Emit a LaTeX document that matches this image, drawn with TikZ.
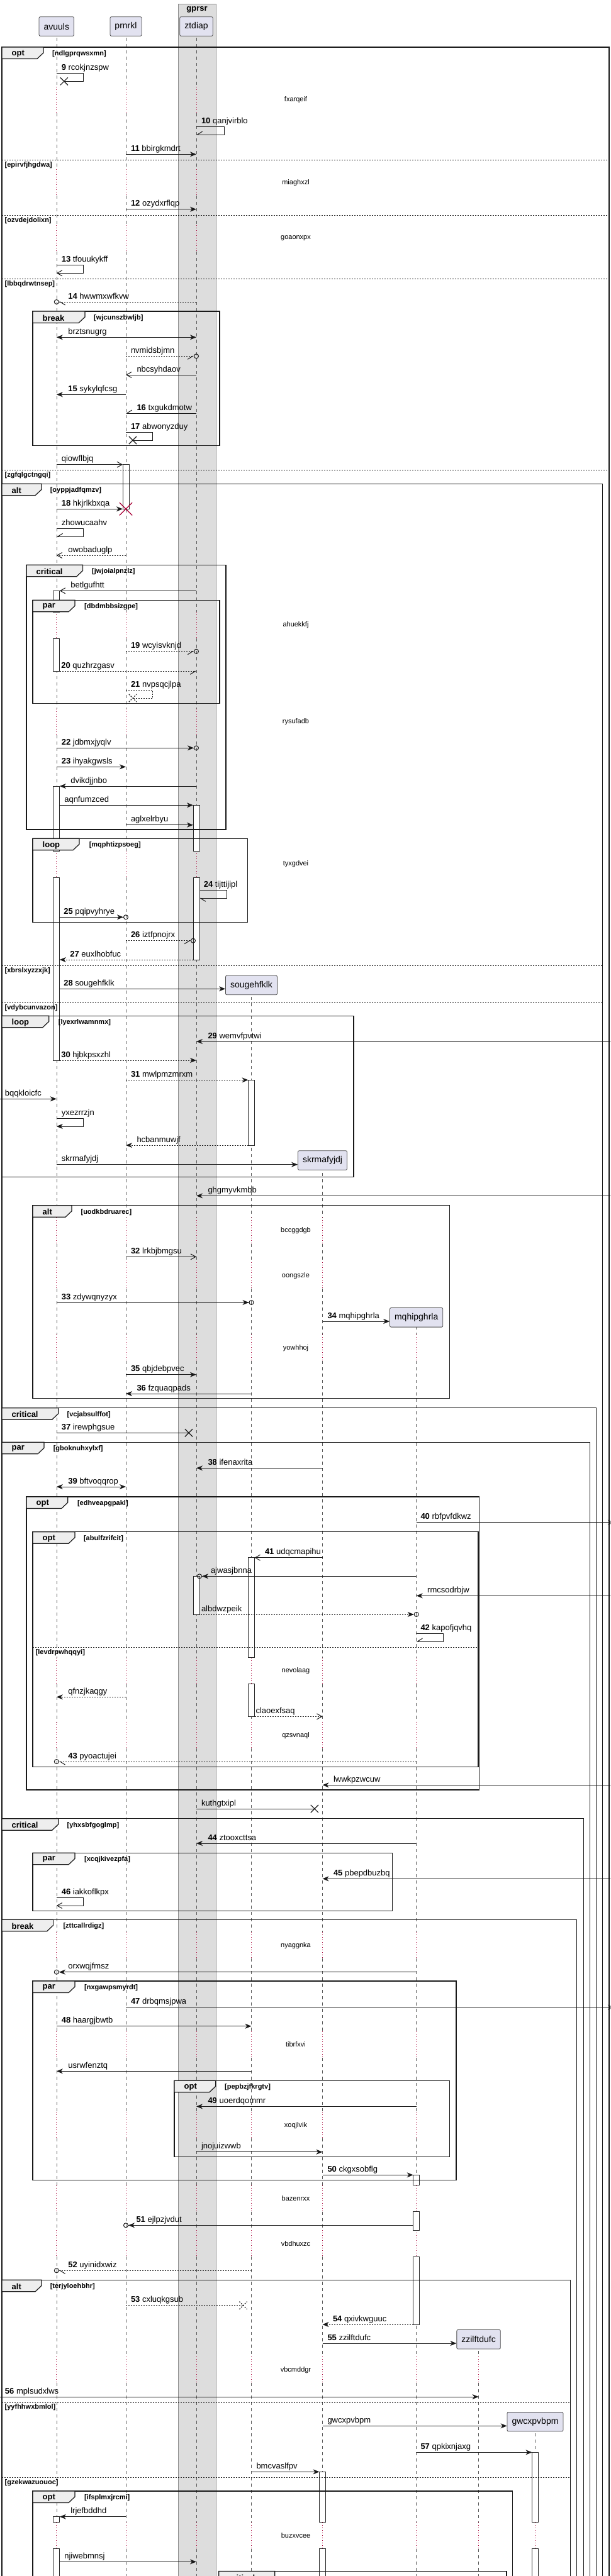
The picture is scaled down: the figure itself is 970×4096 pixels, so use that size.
\documentclass[tikz,border=0pt]{standalone}
\usepackage{fontspec}
\setmainfont{Liberation Sans}
\usetikzlibrary{arrows.meta,shapes.misc,calc}
\definecolor{lanebg}{HTML}{DDDDDD}
\definecolor{partbg}{HTML}{E2E2F0}
\definecolor{tabbg}{HTML}{EEEEEE}
\definecolor{crim}{HTML}{A80036}

\begin{document}
\begin{tikzpicture}[x=1pt,y=-1pt,
  part/.style={draw=black!70, fill=partbg, rounded corners=2pt, line width=0.8pt, minimum height=30.6pt, inner xsep=7.5pt, inner ysep=0pt, font=\fontsize{14}{16}\selectfont},
  life/.style={draw=black!65, line width=0.6pt, dash pattern=on 5pt off 5pt},
  dly/.style={draw=crim, line width=0.9pt, dash pattern=on 1pt off 3pt},
  dlytxt/.style={font=\fontsize{11}{13}\selectfont, inner sep=0pt},
  act/.style={draw=black!85, fill=white, line width=0.8pt},
  frm/.style={draw=black!90, line width=1.5pt},
  tab/.style={draw=black!90, fill=tabbg, line width=1.2pt},
  tabtxt/.style={anchor=west, inner sep=0pt, font=\bfseries\fontsize{13}{15}\selectfont},
  grd/.style={anchor=west, inner sep=0pt, font=\bfseries\fontsize{11}{13}\selectfont},
  sep/.style={draw=black!90, line width=1pt, dash pattern=on 2pt off 2pt},
  msg/.style={draw=black!90, line width=1pt},
  ret/.style={msg, dash pattern=on 2pt off 2pt},
  fil/.style={-{Stealth[length=10pt,width=8pt,inset=3pt]}},
  both/.style={{Stealth[length=10pt,width=8pt,inset=3pt]}-{Stealth[length=10pt,width=8pt,inset=3pt]}},
  opn/.style={-{Straight Barb[length=8pt,width=9pt]}},
  hl/.style={-{Straight Barb[harpoon,length=8pt,width=10pt]}},
  hr/.style={-{Straight Barb[harpoon,swap,length=8pt,width=10pt]}},
  filc/.style={-{Stealth[length=10pt,width=8pt,inset=3pt]Circle[open,length=8pt,width=8pt]}, shorten >=-4pt},
  hlc/.style={-{Straight Barb[harpoon,length=8pt,width=10pt]Circle[open,length=8pt,width=8pt]}, shorten >=-4pt},
  hrc/.style={-{Straight Barb[harpoon,swap,length=8pt,width=10pt]Circle[open,length=8pt,width=8pt]}, shorten >=-4pt},
  lr/.style={pos=0, anchor=base west, inner sep=0pt, xshift=#1, yshift=5pt, font=\fontsize{13}{15}\selectfont}, lr/.default=7.5pt,
  rl/.style={pos=1, anchor=base west, inner sep=0pt, xshift=#1, yshift=5pt, font=\fontsize{13}{15}\selectfont}, rl/.default=17pt,
  gone/.style={cross out, draw=black!90, line width=1.2pt, minimum size=11pt, inner sep=0pt},
  kill/.style={cross out, draw=crim, line width=1.3pt, minimum size=19pt, inner sep=0pt}]
\useasboundingbox (0,0) rectangle (970,4096);
\clip (0,0) rectangle (970,4096);

\fill[lanebg] (283,6) rectangle (343,4120);
\draw[black!45, line width=0.8pt] (283,4120) -- (283,6) -- (343,6) -- (343,4120);
\node[font=\bfseries\fontsize{13}{15}\selectfont] (gprsr) at (313,15) {gprsr};

\coordinate (ledge) at (0,0);
\coordinate (redge) at (976,0);
\node[part] (av) at (89.8,42) {avuuls};
\node[part] (pr) at (200,42) {prnrkl};
\node[part] (zt) at (312,42) {ztdiap};
\node[part] (so) at (399.5,1566.5) {sougehfklk};
\node[part] (sk) at (512.5,1845) {skrmafyjdj};
\node[part] (mq) at (661.7,2094.8) {mqhipghrla};
\node[part] (zz) at (760.6,3719.7) {zzilftdufc};
\node[part] (gw) at (850.5,3850.7) {gwcxpvbpm};

\foreach \p/\s in {av/57.3,pr/57.3,zt/57.3,so/1582.3,sk/1860.3,mq/2110.3,zz/3735,gw/3866.7}{
  \begin{scope}
    \clip (0,\s) rectangle (970,4120);
    \foreach \a/\b in {0/138,180/269.3,311.3/358,400/973,1015/1126.7,1168.7/1353,1395/1935.7,1977.7/2007.3,2049.3/2122.3,2164.3/2635.7,2677.7/2738.3,2780.3/3072.3,3114.3/3230,3272/3358.3,3400.3/3474.7,3516.7/3546.3,3588.3/3747.3,3789.3/4010.7,4052.7/4120}
      \draw[life] (\p|-0,\a) -- (\p|-0,\b);
    \foreach \c in {159,290.3,379,994,1147.7,1374,1956.7,2028.3,2143.3,2656.7,2759.3,3093.3,3251,3379.3,3495.7,3567.3,3768.3,4031.7}
      \draw[dly] (\p|-0,\c-21) -- (\p|-0,\c+21);
  \end{scope}
}

\filldraw[act] (195,738.7) rectangle (205,809.3);
\filldraw[act] (84.8,939.3) rectangle (94.8,973);
\filldraw[act] (84.8,1015) rectangle (94.8,1067.3);
\filldraw[act] (84.8,1250) rectangle (94.8,1353);
\filldraw[act] (84.8,1395) rectangle (94.8,1686);
\filldraw[act] (307,1280.3) rectangle (317,1353);
\filldraw[act] (307,1395) rectangle (317,1526);
\filldraw[act] (394.5,1717.3) rectangle (404.5,1821);
\filldraw[act] (394.5,2476.7) rectangle (404.5,2635.7);
\filldraw[act] (394.5,2677.7) rectangle (404.5,2729.3);
\filldraw[act] (307,2506.3) rectangle (317,2567);
\filldraw[act] (656.7,3458.3) rectangle (666.7,3474.7);
\filldraw[act] (656.7,3516.7) rectangle (666.7,3546.3);
\filldraw[act] (656.7,3588.3) rectangle (666.7,3696);
\filldraw[act] (845.5,3899.3) rectangle (855.5,4010.7);
\filldraw[act] (845.5,4052.7) rectangle (855.5,4120);
\filldraw[act] (507.5,3930.3) rectangle (517.5,4010.7);
\filldraw[act] (507.5,4052.7) rectangle (517.5,4120);
\filldraw[act] (84.8,4001.7) rectangle (94.8,4010.7);
\filldraw[act] (84.8,4052.7) rectangle (94.8,4120);

\draw[frm] (3,75) rectangle (968,4120);
\filldraw[tab] (3,75) -- (69,75) -- (69,84) -- (59,93.5) -- (3,93.5) -- cycle;
\node[tabtxt] (t1) at (18.5,85.5) {opt};
\node[grd] (g1) at (83,85.5) {[ndlgprqwsxmn]};
\draw[sep] (3,254.3) -- (968,254.3);
\node[grd] (g1b) at (7.5,262.3) {[epirvfjhgdwa]};
\draw[sep] (3,342.3) -- (968,342.3);
\node[grd] (g1c) at (7.5,350.5) {[ozvdejdolixn]};
\draw[sep] (3,443) -- (968,443);
\node[grd] (g1d) at (7.5,451.5) {[lbbqdrwtnsep]};
\draw[sep] (3,747.3) -- (968,747.3);
\node[grd] (g1e) at (7.5,756) {[zgfqlgctngqi]};

\draw[frm] (52,495) rectangle (349,708.3);
\filldraw[tab] (52,495) -- (135,495) -- (135,504) -- (125,513.5) -- (52,513.5) -- cycle;
\node[tabtxt] (t2) at (67.5,505.5) {break};
\node[grd] (g2) at (149,505.5) {[wjcunszbwljb]};

\draw[frm] (3,769.3) rectangle (957.4,4120);
\filldraw[tab] (3,769.3) -- (66,769.3) -- (66,778.3) -- (56,787.8) -- (3,787.8) -- cycle;
\node[tabtxt] (t3) at (18.5,779.8) {alt};
\node[grd] (g3) at (79.6,779.8) {[oyppjadfqmzv]};
\draw[sep] (3,1535.3) -- (957.4,1535.3);
\node[grd] (g3b) at (7.5,1543.5) {[xbrslxyzzxjk]};
\draw[sep] (3,1594.3) -- (957.4,1594.3);
\node[grd] (g3c) at (7.5,1602.5) {[vdybcunvazon]};

\draw[frm] (42,898.3) rectangle (359,1319);
\filldraw[tab] (42,898.3) -- (131.6,898.3) -- (131.6,907.3) -- (121.6,916.8) -- (42,916.8) -- cycle;
\node[tabtxt] (t4) at (57.5,908.8) {critical};
\node[grd] (g4) at (146,908.8) {[jwjoialpnzlz]};

\draw[frm] (52,954.3) rectangle (349,1118.3);
\filldraw[tab] (52,954.3) -- (119,954.3) -- (119,963.3) -- (109,972.8) -- (52,972.8) -- cycle;
\node[tabtxt] (t5) at (67.5,964.8) {par};
\node[grd] (g5) at (134,964.8) {[dbdmbbsizgpe]};

\draw[frm] (52,1333.3) rectangle (393.5,1466.3);
\filldraw[tab] (52,1333.3) -- (126,1333.3) -- (126,1342.3) -- (116,1351.8) -- (52,1351.8) -- cycle;
\node[tabtxt] (t6) at (67.5,1343.8) {loop};
\node[grd] (g6) at (141.6,1343.8) {[mqphtizpsoeg]};

\draw[frm] (3,1615.3) rectangle (562,1871.3);
\filldraw[tab] (3,1615.3) -- (77.7,1615.3) -- (77.7,1624.3) -- (67.7,1633.8) -- (3,1633.8) -- cycle;
\node[tabtxt] (t7) at (18.5,1625.8) {loop};
\node[grd] (g7) at (92.7,1625.8) {[lyexrlwamnmx]};

\draw[frm] (52,1916.7) rectangle (714.3,2223.7);
\filldraw[tab] (52,1916.7) -- (114,1916.7) -- (114,1925.7) -- (104,1935.2) -- (52,1935.2) -- cycle;
\node[tabtxt] (t8) at (67.5,1927.2) {alt};
\node[grd] (g8) at (128.4,1927.2) {[uodkbdruarec]};

\draw[frm] (3,2238.7) rectangle (947.4,4120);
\filldraw[tab] (3,2238.7) -- (92.7,2238.7) -- (92.7,2247.7) -- (82.7,2257.2) -- (3,2257.2) -- cycle;
\node[tabtxt] (t9) at (18.5,2249.2) {critical};
\node[grd] (g9) at (106.5,2249.2) {[vcjabsulffot]};

\draw[frm] (3,2293.3) rectangle (937.3,4120);
\filldraw[tab] (3,2293.3) -- (70,2293.3) -- (70,2302.3) -- (60,2311.8) -- (3,2311.8) -- cycle;
\node[tabtxt] (t10) at (18.5,2303.8) {par};
\node[grd] (g10) at (84.6,2303.8) {[gboknuhxylxf]};

\draw[frm] (42,2380) rectangle (761.3,2846);
\filldraw[tab] (42,2380) -- (107.8,2380) -- (107.8,2389) -- (97.8,2398.5) -- (42,2398.5) -- cycle;
\node[tabtxt] (t11) at (57.5,2390.5) {opt};
\node[grd] (g11) at (122.8,2390.5) {[edhveapgpakl]};

\draw[frm] (52,2435.7) rectangle (760,2809.3);
\filldraw[tab] (52,2435.7) -- (119,2435.7) -- (119,2444.7) -- (109,2454.2) -- (52,2454.2) -- cycle;
\node[tabtxt] (t12) at (67.5,2446.2) {opt};
\node[grd] (g12) at (132.8,2446.2) {[abulfzrifcit]};
\draw[sep] (52,2619.3) -- (760,2619.3);
\node[grd] (g12b) at (56.5,2627.5) {[levdrpwhqqyi]};

\draw[frm] (3,2891.7) rectangle (927.3,4120);
\filldraw[tab] (3,2891.7) -- (92.7,2891.7) -- (92.7,2900.7) -- (82.7,2910.2) -- (3,2910.2) -- cycle;
\node[tabtxt] (t13) at (18.5,2902.2) {critical};
\node[grd] (g13) at (106.5,2902.2) {[yhxsbfgoglmp]};

\draw[frm] (52,2946.3) rectangle (623.4,3038.3);
\filldraw[tab] (52,2946.3) -- (119,2946.3) -- (119,2955.3) -- (109,2964.8) -- (52,2964.8) -- cycle;
\node[tabtxt] (t14) at (67.5,2956.8) {par};
\node[grd] (g14) at (134,2956.8) {[xcqjkivezpfa]};

\draw[frm] (3,3052.3) rectangle (916.6,4120);
\filldraw[tab] (3,3052.3) -- (84.6,3052.3) -- (84.6,3061.3) -- (74.6,3070.8) -- (3,3070.8) -- cycle;
\node[tabtxt] (t15) at (18.5,3062.8) {break};
\node[grd] (g15) at (100.3,3062.8) {[zttcallrdigz]};

\draw[frm] (52,3150) rectangle (725,3466.7);
\filldraw[tab] (52,3150) -- (119,3150) -- (119,3159) -- (109,3168.5) -- (52,3168.5) -- cycle;
\node[tabtxt] (t16) at (67.5,3160.5) {par};
\node[grd] (g16) at (134,3160.5) {[nxgawpsmyrdt]};

\draw[frm] (277,3308.3) rectangle (714.3,3429.3);
\filldraw[tab] (277,3308.3) -- (342.7,3308.3) -- (342.7,3317.3) -- (332.7,3326.8) -- (277,3326.8) -- cycle;
\node[tabtxt] (t17) at (292.5,3318.8) {opt};
\node[grd] (g17) at (357,3318.8) {[pepbzjfkrgtv]};

\draw[frm] (3,3625.3) rectangle (906.6,4120);
\filldraw[tab] (3,3625.3) -- (66,3625.3) -- (66,3634.3) -- (56,3643.8) -- (3,3643.8) -- cycle;
\node[tabtxt] (t18) at (18.5,3635.8) {alt};
\node[grd] (g18) at (79.6,3635.8) {[terjyloehbhr]};
\draw[sep] (3,3820) -- (906.6,3820);
\node[grd] (g18b) at (7.5,3828) {[yyfhhwxbmlol]};
\draw[sep] (3,3939.3) -- (906.6,3939.3);
\node[grd] (g18c) at (7.5,3947.5) {[gzekwazuouoc]};

\draw[frm] (52,3961) rectangle (814.5,4120);
\filldraw[tab] (52,3961) -- (119,3961) -- (119,3970) -- (109,3979.5) -- (52,3979.5) -- cycle;
\node[tabtxt] (t19) at (67.5,3971.5) {opt};
\node[grd] (g19) at (134,3971.5) {[ifsplmxjrcmi]};

\draw[frm] (347.7,4088.3) rectangle (805,4120);
\filldraw[tab] (347.7,4088.3) -- (436.7,4088.3) -- (436.7,4097.3) -- (426.7,4106.8) -- (347.7,4106.8) -- cycle;
\node[tabtxt] (t20) at (363.2,4098.8) {critical};

\node[dlytxt] (d1) at (470,159) {fxarqeif};
\node[dlytxt] (d2) at (470,290.3) {miaghxzl};
\node[dlytxt] (d3) at (470,379) {goaonxpx};
\node[dlytxt] (d4) at (470,994) {ahuekkfj};
\node[dlytxt] (d5) at (470,1147.7) {rysufadb};
\node[dlytxt] (d6) at (470,1374) {tyxgdvei};
\node[dlytxt] (d7) at (470,1956.7) {bccggdgb};
\node[dlytxt] (d8) at (470,2028.3) {oongszle};
\node[dlytxt] (d9) at (470,2143.3) {yowhhoj};
\node[dlytxt] (d10) at (470,2656.7) {nevolaag};
\node[dlytxt] (d11) at (470,2759.3) {qzsvnaql};
\node[dlytxt] (d12) at (470,3093.3) {nyaggnka};
\node[dlytxt] (d13) at (470,3251) {tibrfxvi};
\node[dlytxt] (d14) at (470,3379.3) {xoqjlvik};
\node[dlytxt] (d15) at (470,3495.7) {bazenrxx};
\node[dlytxt] (d16) at (470,3567.3) {vbdhuxzc};
\node[dlytxt] (d17) at (470,3768.3) {vbcmddgr};
\node[dlytxt] (d18) at (470,4031.7) {buzxvcee};

\draw[msg] (av|-0,116.3) -- ++(43,0) node[lr]{\textbf{9} rcokjnzspw} -- ++(0,13) -- ($(av|-0,129.3)+(12,0)$) node[gone]{};
\draw[msg,hr] (zt|-0,201) -- ++(44,0) node[lr]{\textbf{10} qanjvirblo} -- ++(0,13) -- (zt|-0,214);
\draw[msg,fil] (pr|-0,245.3) -- (zt|-0,245.3) node[lr]{\textbf{11} bbirgkmdrt};
\draw[msg,fil] (pr|-0,332.7) -- (zt|-0,332.7) node[lr]{\textbf{12} ozydxrflqp};
\draw[msg,opn] (av|-0,421) -- ++(43,0) node[lr]{\textbf{13} tfouukykff} -- ++(0,13.3) -- (av|-0,434.3);
\draw[ret,hlc] (zt|-0,480) -- (av|-0,480) node[rl=18pt]{\textbf{14} hwwmxwfkvw};
\draw[msg,both] (av|-0,536.3) -- (zt|-0,536.3) node[lr=18pt]{brztsnugrg};
\draw[ret,hrc] (pr|-0,566.3) -- (zt|-0,566.3) node[lr]{nvmidsbjmn};
\draw[msg,opn] (zt|-0,596) -- (pr|-0,596) node[rl]{nbcsyhdaov};
\draw[msg,fil] (pr|-0,627.3) -- (av|-0,627.3) node[rl=18pt]{\textbf{15} sykylqfcsg};
\draw[msg,hr] (zt|-0,657) -- (pr|-0,657) node[rl]{\textbf{16} txgukdmotw};
\draw[msg] (pr|-0,687.3) -- ++(42.5,0) node[lr]{\textbf{17} abwonyzduy} -- ++(0,12.7) -- ($(pr|-0,700)+(11,0)$) node[gone]{};
\draw[msg,opn] (av|-0,738.7) -- ($(pr|-0,738.7)+(-5,0)$) node[lr]{qiowflbjq};
\draw[msg,fil] (av|-0,809.3) -- ($(pr|-0,809.3)+(-5,0)$) node[lr]{\textbf{18} hkjrlkbxqa};
\node[kill] (x18) at (pr|-0,809.3) {};
\draw[msg,hr] (av|-0,840.3) -- ++(43,0) node[lr]{zhowucaahv} -- ++(0,13) -- (av|-0,853.3);
\draw[ret,opn] (pr|-0,883) -- (av|-0,883) node[rl=18pt]{owobaduglp};
\draw[msg,opn] (zt|-0,939.3) -- ($(av|-0,939.3)+(5,0)$) node[rl]{betlgufhtt};
\draw[ret,hrc] (pr|-0,1035.7) -- (zt|-0,1035.7) node[lr]{\textbf{19} wcyisvknjd};
\draw[ret,hr] ($(av|-0,1067.3)+(5,0)$) -- (zt|-0,1067.3) node[lr=2pt]{\textbf{20} quzhrzgasv};
\draw[ret] (pr|-0,1097.3) -- ++(42.5,0) node[lr]{\textbf{21} nvpsqcjlpa} -- ++(0,12.7) -- ($(pr|-0,1110)+(11,0)$) node[gone]{};
\draw[msg,filc] (av|-0,1189.3) -- (zt|-0,1189.3) node[lr]{\textbf{22} jdbmxjyqlv};
\draw[msg,fil] (av|-0,1219.3) -- (pr|-0,1219.3) node[lr]{\textbf{23} ihyakgwsls};
\draw[msg,fil] (zt|-0,1250) -- ($(av|-0,1250)+(5,0)$) node[rl]{dvikdjjnbo};
\draw[msg,fil] ($(av|-0,1280.3)+(5,0)$) -- ($(zt|-0,1280.3)+(-5,0)$) node[lr=7pt]{aqnfumzced};
\draw[msg,fil] (pr|-0,1311.7) -- ($(zt|-0,1311.7)+(-5,0)$) node[lr]{aglxelrbyu};
\draw[msg,hl] ($(zt|-0,1415.3)+(5,0)$) -- ++(43,0) node[lr=6.3pt]{\textbf{24} tijttijipl} -- ++(0,13) -- ($(zt|-0,1428.3)+(5,0)$);
\draw[msg,filc] ($(av|-0,1458.3)+(5,0)$) -- (pr|-0,1458.3) node[lr=6pt]{\textbf{25} pqipvyhrye};
\draw[ret,hrc] (pr|-0,1495.7) -- ($(zt|-0,1495.7)+(-5,0)$) node[lr]{\textbf{26} iztfpnojrx};
\draw[ret,fil] ($(zt|-0,1526)+(-5,0)$) -- ($(av|-0,1526)+(5,0)$) node[rl=16pt]{\textbf{27} euxlhobfuc};
\draw[msg,fil] ($(av|-0,1572.3)+(5,0)$) -- (so.west|-0,1572.3) node[lr=6pt]{\textbf{28} sougehfklk};
\draw[msg,fil] (redge|-0,1656) -- (zt|-0,1656) node[rl=18pt]{\textbf{29} wemvfpvtwi};
\draw[ret,fil] ($(av|-0,1686)+(5,0)$) -- (zt|-0,1686) node[lr=2pt]{\textbf{30} hjbkpsxzhl};
\draw[ret,fil] (pr|-0,1717.3) -- ($(so|-0,1717.3)+(-5,0)$) node[lr]{\textbf{31} mwlpmzmrxm};
\draw[msg,fil] (ledge|-0,1747.3) -- (av|-0,1747.3) node[lr]{bqqkloicfc};
\draw[msg,fil] (av|-0,1778.3) -- ++(43,0) node[lr]{yxezrrzjn} -- ++(0,12.7) -- (av|-0,1791);
\draw[ret,fil] ($(so|-0,1821)+(-5,0)$) -- (pr|-0,1821) node[rl]{hcbanmuwjf};
\draw[msg,fil] (av|-0,1851.7) -- (sk.west|-0,1851.7) node[lr]{skrmafyjdj};
\draw[msg,fil] (redge|-0,1901.3) -- (zt|-0,1901.3) node[rl=18pt]{ghgmyvkmbb};
\draw[msg,opn] (pr|-0,1998.3) -- (zt|-0,1998.3) node[lr]{\textbf{32} lrkbjbmgsu};
\draw[msg,filc] (av|-0,2071) -- (so|-0,2071) node[lr]{\textbf{33} zdywqnyzyx};
\draw[msg,fil] (sk|-0,2101) -- (mq.west|-0,2101) node[lr]{\textbf{34} mqhipghrla};
\draw[msg,fil] (pr|-0,2185.7) -- (zt|-0,2185.7) node[lr]{\textbf{35} qbjdebpvec};
\draw[msg,fil] (so|-0,2216) -- (pr|-0,2216) node[rl]{\textbf{36} fzquaqpads};
\draw[msg] (av|-0,2278.3) -- ($(zt|-0,2278.3)+(-12,0)$) node[gone]{} node[lr]{\textbf{37} irewphgsue};
\draw[msg,fil] (sk|-0,2334.3) -- (zt|-0,2334.3) node[rl=18pt]{\textbf{38} ifenaxrita};
\draw[msg,both] (av|-0,2364) -- (pr|-0,2364) node[lr=18pt]{\textbf{39} bftvoqqrop};
\draw[msg,fil] (mq|-0,2420.7) -- (redge|-0,2420.7) node[lr=6.3pt]{\textbf{40} rbfpvfdkwz};
\draw[msg,opn] (sk|-0,2476.7) -- ($(so|-0,2476.7)+(5,0)$) node[rl=16pt]{\textbf{41} udqcmapihu};
\draw[msg,filc] (mq|-0,2506.3) -- ($(zt|-0,2506.3)+(5,0)$) node[rl=17.5pt]{ajwasjbnna};
\draw[msg,fil] (redge|-0,2537.3) -- (mq|-0,2537.3) node[rl]{rmcsodrbjw};
\draw[ret,filc] ($(zt|-0,2567)+(-5,0)$) -- (mq|-0,2567) node[lr=12.5pt]{albdwzpeik};
\draw[msg,hr] (mq|-0,2597.7) -- ++(42.6,0) node[lr=6.3pt]{\textbf{42} kapofjqvhq} -- ++(0,12.3) -- (mq|-0,2610);
\draw[ret,fil] (pr|-0,2698.3) -- (av|-0,2698.3) node[rl=18pt]{qfnzjkaqgy};
\draw[ret,opn] ($(so|-0,2729.3)+(5,0)$) -- (sk|-0,2729.3) node[lr=1.5pt]{claoexfsaq};
\draw[ret,hlc] (mq|-0,2801) -- (av|-0,2801) node[rl=18pt]{\textbf{43} pyoactujei};
\draw[msg,fil] (redge|-0,2838.3) -- (sk|-0,2838.3) node[rl]{lwwkpzwcuw};
\draw[msg] (zt|-0,2876) -- ($(sk|-0,2876)+(-12.6,0)$) node[gone]{} node[lr]{kuthgtxipl};
\draw[msg,fil] (mq|-0,2931) -- (zt|-0,2931) node[rl=18pt]{\textbf{44} ztooxcttsa};
\draw[msg,fil] (redge|-0,2987.3) -- (sk|-0,2987.3) node[rl]{\textbf{45} pbepdbuzbq};
\draw[msg,opn] (av|-0,3017) -- ++(43,0) node[lr]{\textbf{46} iakkoflkpx} -- ++(0,13) -- (av|-0,3030);
\draw[msg,filc] (mq|-0,3135.7) -- (av|-0,3135.7) node[rl=18pt]{orxwqjfmsz};
\draw[msg,fil] (pr|-0,3191.7) -- (redge|-0,3191.7) node[lr]{\textbf{47} drbqmsjpwa};
\draw[msg,fil] (av|-0,3221.7) -- (so|-0,3221.7) node[lr]{\textbf{48} haargjbwtb};
\draw[msg,fil] (so|-0,3293.3) -- (av|-0,3293.3) node[rl=18pt]{usrwfenztq};
\draw[msg,fil] (mq|-0,3349.3) -- (zt|-0,3349.3) node[rl=18pt]{\textbf{49} uoerdqommr};
\draw[msg,fil] (zt|-0,3421.7) -- (sk|-0,3421.7) node[lr]{jnojuizwwb};
\draw[msg,fil] (sk|-0,3458.3) -- ($(mq|-0,3458.3)+(-5,0)$) node[lr]{\textbf{50} ckgxsobflg};
\draw[msg,filc] ($(mq|-0,3538.3)+(-5,0)$) -- (pr|-0,3538.3) node[rl=16pt]{\textbf{51} ejlpzjvdut};
\draw[ret,hlc] (so|-0,3610.3) -- (av|-0,3610.3) node[rl=18pt]{\textbf{52} uyinidxwiz};
\draw[ret] (pr|-0,3665.7) -- ($(so|-0,3665.7)+(-13,0)$) node[gone]{} node[lr]{\textbf{53} cxluqkgsub};
\draw[ret,fil] ($(mq|-0,3696)+(-5,0)$) -- (sk|-0,3696) node[rl=16pt]{\textbf{54} qxivkwguuc};
\draw[msg,fil] (sk|-0,3726) -- (zz.west|-0,3726) node[lr]{\textbf{55} zzilftdufc};
\draw[msg,fil] (ledge|-0,3811) -- (zz|-0,3811) node[lr]{\textbf{56} mplsudxlws};
\draw[msg,fil] (sk|-0,3857.3) -- (gw.west|-0,3857.3) node[lr]{gwcxpvbpm};
\draw[msg,fil] (mq|-0,3899.3) -- ($(gw|-0,3899.3)+(-5,0)$) node[lr=6.3pt]{\textbf{57} qpkixnjaxg};
\draw[msg,fil] (so|-0,3930.3) -- ($(sk|-0,3930.3)+(-5,0)$) node[lr]{bmcvaslfpv};
\draw[msg,fil] (pr|-0,4001.7) -- ($(av|-0,4001.7)+(5,0)$) node[rl]{lrjefbddhd};
\draw[msg,fil] ($(av|-0,4073.3)+(5,0)$) -- (zt|-0,4073.3) node[lr=7pt]{njiwebmnsj};
\end{tikzpicture}
\end{document}
